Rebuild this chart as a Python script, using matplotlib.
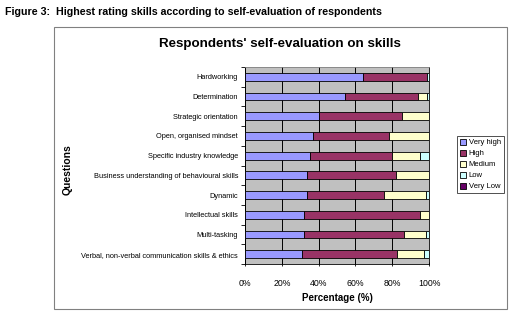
import numpy as np
import matplotlib
matplotlib.use("Agg")
import matplotlib.pyplot as plt
from matplotlib.patches import Rectangle

plt.rcParams["font.family"] = ["Liberation Sans", "DejaVu Sans"]

# Data (share of respondents, %)
questions = [
    "Hardworking",
    "Determination",
    "Strategic orientation",
    "Open, organised mindset",
    "Specific industry knowledge",
    "Business understanding of behavioural skills",
    "Dynamic",
    "Intellectual skills",
    "Multi-tasking",
    "Verbal, non-verbal communication skills & ethics",
]
very_high = [64.2, 54.4, 40.2, 36.9, 35.3, 33.6, 33.6, 31.8, 31.8, 31.1]
high = [34.5, 39.4, 45.3, 41.5, 44.7, 48.2, 42.0, 63.5, 54.7, 51.6]
medium = [0.0, 4.9, 14.5, 21.6, 15.1, 18.2, 22.9, 4.7, 12.0, 14.6]
low = [1.3, 1.3, 0.0, 0.0, 4.9, 0.0, 1.5, 0.0, 1.5, 2.7]
very_low = [0, 0, 0, 0, 0, 0, 0, 0, 0, 0]
series_names = ["Very high", "High", "Medium", "Low", "Very Low"]
colors = ["#9999FF", "#993366", "#FFFFCC", "#CCFFFF", "#660066"]
x_ticks = [0, 20, 40, 60, 80, 100]

fig = plt.figure(figsize=(5.2, 3.19), dpi=100)

# outer chart frame
fig.patches.append(Rectangle((54 / 520, 1 - 309 / 319), (507 - 54) / 520, (309 - 27) / 319,
                             transform=fig.transFigure, fill=False,
                             edgecolor="#808080", linewidth=0.8))

fig.text(5 / 520, 1 - 12 / 319,
         "Figure 3:  Highest rating skills according to self-evaluation of respondents",
         fontsize=7.7, fontweight="bold", va="center", ha="left",
         family=["Liberation Sans Narrow", "Liberation Sans", "DejaVu Sans"])
fig.text(280 / 520, 1 - 44 / 319, "Respondents' self-evaluation on skills",
         fontsize=9.6, fontweight="bold", ha="center", va="center")

ax = fig.add_axes([245 / 520, 1 - 264 / 319, (429 - 245) / 520, (264 - 67) / 319])
ax.set_facecolor("#C0C0C0")

y = np.arange(len(questions))
left = np.zeros(len(questions))
for vals, name, col in zip([very_high, high, medium, low, very_low], series_names, colors):
    ax.barh(y, vals, left=left, height=0.4, color=col, edgecolor="black",
            linewidth=0.6, label=name, zorder=3)
    left += np.array(vals)

ax.set_xlim(0, 100)
ax.set_ylim(len(questions) - 0.5, -0.5)
ax.set_xticks(x_ticks)
ax.set_xticklabels([f"{v}%" for v in x_ticks], fontsize=6.3)
ax.xaxis.grid(True, color="black", linewidth=0.7, zorder=1)
ax.set_axisbelow(True)

ax.set_yticks(y)
ax.set_yticklabels(questions, fontsize=5.3)
ax.set_yticks(np.arange(-0.5, len(questions), 1), minor=True)
ax.tick_params(axis="y", which="major", length=0, pad=5)
ax.tick_params(axis="y", which="minor", length=3, width=0.6, direction="out")
ax.tick_params(axis="x", length=3, width=0.6, direction="inout", pad=9)

for s in ax.spines.values():
    s.set_color("black")
    s.set_linewidth(0.6)
ax.spines["top"].set_color("#808080")

ax.set_xlabel("Percentage (%)", fontsize=7, fontweight="bold", labelpad=4)
fig.text(68 / 520, 1 - 170 / 319, "Questions", rotation=90, fontsize=7.5,
         fontweight="bold", ha="center", va="center")

leg = fig.legend(loc="upper left", bbox_to_anchor=(457 / 520, 1 - 136 / 319),
                 fontsize=5.5, frameon=True, fancybox=False, edgecolor="black",
                 handlelength=0.8, handleheight=0.8, handletextpad=0.4,
                 labelspacing=0.45, borderpad=0.35, borderaxespad=0)
leg.get_frame().set_linewidth(0.6)

fig.savefig("out.png", dpi=100)
